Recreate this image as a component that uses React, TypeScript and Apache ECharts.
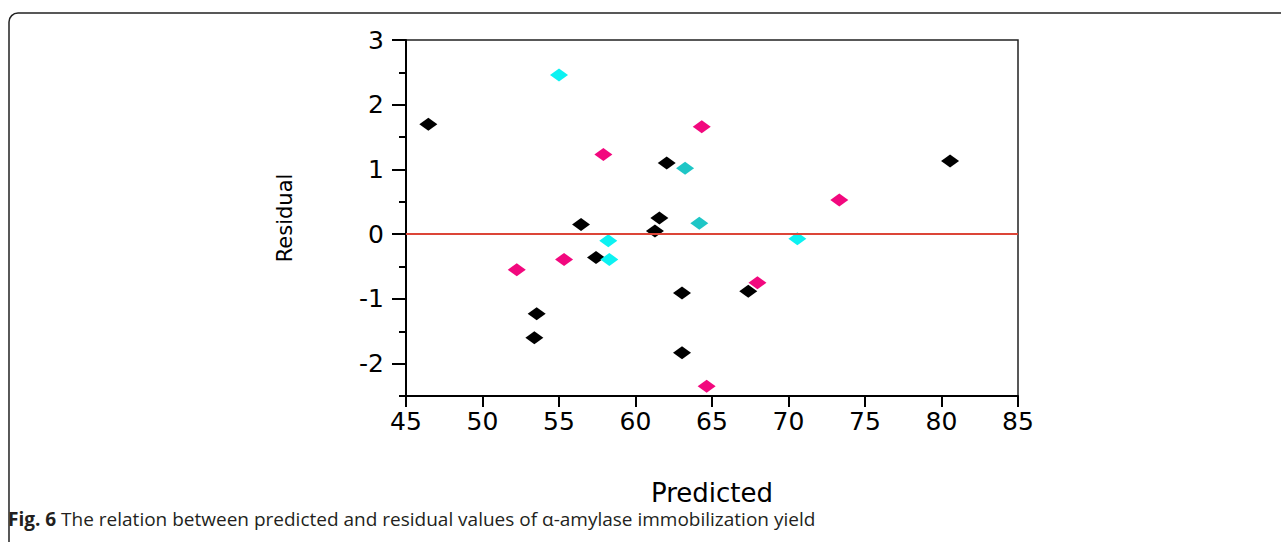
import React, { useEffect, useRef } from "react";
import * as echarts from "echarts";

// Predicted (x) and residual (y) values
const blackPredicted = [46.46, 56.44, 57.42, 53.54, 53.39, 61.56, 61.27, 62.04, 63.04, 63.04, 67.37, 80.56];
const blackResidual = [1.7, 0.15, -0.36, -1.23, -1.6, 0.25, 0.05, 1.1, -0.91, -1.83, -0.88, 1.13];

const pinkPredicted = [52.24, 55.33, 57.9, 64.33, 67.97, 64.65, 73.32];
const pinkResidual = [-0.55, -0.39, 1.23, 1.66, -0.75, -2.35, 0.53];

const cyanPredicted = [55.0, 58.22, 58.29, 70.58];
const cyanResidual = [2.46, -0.1, -0.39, -0.07];

const tealPredicted = [63.24, 64.17];
const tealResidual = [1.02, 0.17];

const xTicks = { min: 45, max: 85, step: 5 };
const yTicks = { min: -2.5, max: 3, step: 0.5 };
const yMajorTicks = [-2, -1, 0, 1, 2, 3];

const xTitle = "Predicted";
const yTitle = "Residual";
const captionBold = "Fig. 6";
const captionText = " The relation between predicted and residual values of α-amylase immobilization yield";

const pairs = (xs: number[], ys: number[]) => xs.map((x, i) => [x, ys[i]]);

const chartFont = "DejaVu Sans";
const ink = "#000000";

export default function App() {
  const ref = useRef<HTMLDivElement>(null);

  useEffect(() => {
    if (!ref.current) return;
    const chart = echarts.init(ref.current, undefined, { renderer: "svg" });

    const diamond = (color: string) => ({
      symbol: "diamond",
      symbolSize: [18, 13],
      itemStyle: { color, opacity: 1 },
    });

    chart.setOption({
      animation: false,
      backgroundColor: "#ffffff",
      grid: {
        left: 406,
        top: 40,
        width: 612,
        height: 356,
        show: true,
        borderColor: "#222222",
        borderWidth: 1.5,
        backgroundColor: "transparent",
      },
      xAxis: {
        type: "value",
        min: xTicks.min,
        max: xTicks.max,
        interval: xTicks.step,
        axisLine: { show: true, onZero: false, lineStyle: { color: ink, width: 2 } },
        axisTick: { show: true, inside: false, length: 11, lineStyle: { color: ink, width: 2 } },
        axisLabel: { fontFamily: chartFont, fontSize: 25, color: ink, margin: 13 },
        splitLine: { show: false },
        name: xTitle,
        nameLocation: "middle",
        nameGap: 84,
        nameTextStyle: { fontFamily: chartFont, fontSize: 26, color: ink },
      },
      yAxis: [
        {
          type: "value",
          position: "left",
          min: yTicks.min,
          max: yTicks.max,
          interval: yTicks.step,
          axisLine: { show: true, onZero: false, lineStyle: { color: ink, width: 2 } },
          axisTick: { show: true, inside: false, length: 7, lineStyle: { color: ink, width: 2 } },
          axisLabel: {
            fontFamily: chartFont,
            fontSize: 25,
            color: ink,
            margin: 22,
            formatter: (v: number) => (Number.isInteger(v) ? String(v) : ""),
          },
          splitLine: { show: false },
          name: yTitle,
          nameLocation: "middle",
          nameGap: 111,
          nameTextStyle: { fontFamily: chartFont, fontSize: 21, color: ink },
        },
        {
          type: "value",
          position: "left",
          offset: 0,
          min: yTicks.min,
          max: yTicks.max,
          interval: yTicks.step,
          axisLine: { show: false },
          axisTick: {
            show: true,
            inside: false,
            length: 14,
            customValues: yMajorTicks,
            lineStyle: { color: ink, width: 2 },
          },
          axisLabel: { show: false },
          splitLine: { show: false },
        },
      ],
      graphic: [
        {
          type: "rect",
          silent: true,
          shape: { x: 9, y: 13, width: 1320, height: 620, r: 9 },
          style: { fill: "none", stroke: "#222222", lineWidth: 1.5 },
        },
        {
          type: "text",
          silent: true,
          left: 8,
          top: 509,
          style: {
            text: "{b|" + captionBold + "}" + captionText,
            fontFamily: "Open Sans",
            fontSize: 19,
            fill: "#231f20",
            rich: {
              b: { fontFamily: "Open Sans", fontSize: 19, fontWeight: "bold", fill: "#231f20" },
            },
          },
        },
      ],
      series: [
        {
          type: "scatter",
          z: 1,
          data: [],
          markLine: {
            silent: true,
            symbol: ["none", "none"],
            label: { show: false },
            lineStyle: { color: "#dc4538", width: 2, type: "solid" },
            data: [{ yAxis: 0 }],
          },
        },
        { type: "scatter", z: 2, data: pairs(pinkPredicted, pinkResidual), ...diamond("#f2087e") },
        { type: "scatter", z: 2, data: pairs(blackPredicted, blackResidual), ...diamond("#000000") },
        { type: "scatter", z: 2, data: pairs(cyanPredicted, cyanResidual), ...diamond("#0cf2f2") },
        { type: "scatter", z: 2, data: pairs(tealPredicted, tealResidual), ...diamond("#1ec6c6") },
      ],
    });

    return () => chart.dispose();
  }, []);

  return (
    <div
      ref={ref}
      style={{ position: "fixed", left: 0, top: 0, width: 1281, height: 542, background: "#fff" }}
    />
  );
}
